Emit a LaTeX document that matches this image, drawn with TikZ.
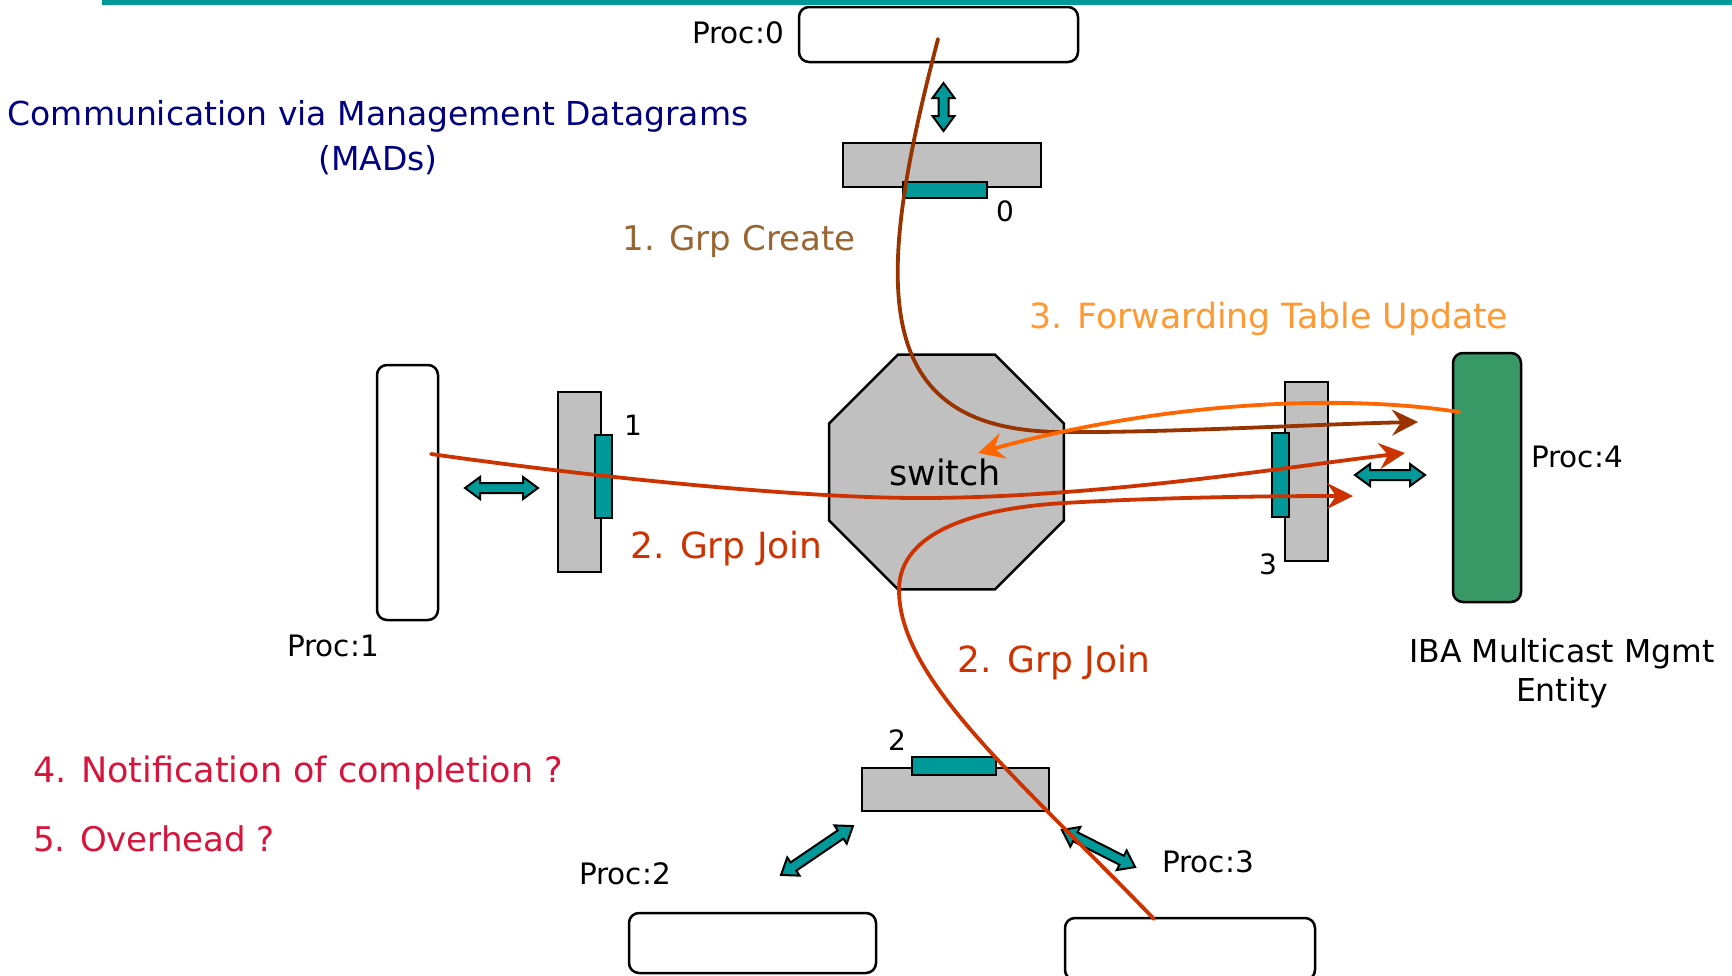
\documentclass[tikz,border=0pt]{standalone}
\usepackage{fontspec}
\setmainfont{DejaVu Sans}
\usetikzlibrary{arrows.meta, shapes.geometric}

\definecolor{tealc}{HTML}{009999}
\definecolor{portgray}{HTML}{C0C0C0}
\definecolor{smgreen}{HTML}{389966}
\definecolor{navyc}{HTML}{000080}
\definecolor{createc}{HTML}{996633}
\definecolor{createline}{HTML}{993300}
\definecolor{joinc}{HTML}{CC3300}
\definecolor{fwdtext}{HTML}{FF9933}
\definecolor{fwdline}{HTML}{FF6600}
\definecolor{questc}{HTML}{D7143C}

\newcommand{\fs}[1]{\fontsize{#1}{#1}\selectfont}

\tikzset{
  procbox/.style={draw=black, line width=2.5pt, rounded corners=10pt, fill=white, inner sep=0pt, outer sep=0pt},
  portbox/.style={draw=black, line width=2.5pt, fill=portgray, inner sep=0pt, outer sep=0pt},
  linkbox/.style={draw=black, line width=2.5pt, fill=tealc, inner sep=0pt, outer sep=0pt},
  lbl/.style={inner sep=0pt, text=black, font=\fs{29.5}},
  portlbl/.style={inner sep=0pt, text=black, font=\fs{28}},
  flow/.style={line width=3.8pt, line cap=round,
    -{Stealth[length=26pt, width=26pt, inset=9pt]}},
  pics/dblarrow/.style={code={
    \draw[line width=2pt, fill=tealc, line join=miter]
      (-#1/2,0) -- (-#1/2+15,11) -- (-#1/2+15,5) -- (#1/2-15,5)
      -- (#1/2-15,11) -- (#1/2,0) -- (#1/2-15,-11) -- (#1/2-15,-5)
      -- (-#1/2+15,-5) -- (-#1/2+15,-11) -- cycle;
  }}
}

\begin{document}
\begin{tikzpicture}[x=1pt, y=-1pt]
\useasboundingbox (0,0) rectangle (1732,975);

% title rule
\fill[tealc] (102,0) rectangle (1732,4.5);

% processors
\node[procbox, minimum width=279pt, minimum height=55pt] (p0) at (938.5,34.5) {};
\node[procbox, minimum width=61pt, minimum height=255pt] (p1) at (407.5,492.5) {};
\node[procbox, minimum width=247pt, minimum height=60pt] (p2) at (752.5,943) {};
\node[procbox, minimum width=250pt, minimum height=62pt] (p3) at (1190,949) {};
\node[procbox, fill=smgreen, minimum width=68pt, minimum height=249pt] (p4) at (1487,477.5) {};

% switch
\node[draw=black, line width=2.5pt, fill=portgray, regular polygon, regular polygon sides=8,
      minimum size=254pt, inner sep=0pt] (sw) at (946.5,472) {};
\node[inner sep=0pt, font=\fs{35}] (swl) at (945,472) {switch};

% switch ports
\node[portbox, minimum width=198pt, minimum height=44pt] (g0) at (942,165) {};
\node[linkbox, minimum width=84pt, minimum height=16pt] (l0) at (945,190) {};
\node[portbox, minimum width=43pt, minimum height=180pt] (g1) at (579.5,482) {};
\node[linkbox, minimum width=17pt, minimum height=83pt] (l1) at (603.5,476.5) {};
\node[portbox, minimum width=187pt, minimum height=43pt] (g2) at (955.5,789.5) {};
\node[linkbox, minimum width=84pt, minimum height=18pt] (l2) at (954,766) {};
\node[portbox, minimum width=43pt, minimum height=179pt] (g3) at (1306.5,471.5) {};
\node[linkbox, minimum width=17pt, minimum height=84pt] (l3) at (1280.5,475) {};

% port numbers
\node[portlbl] (n0) at (1005,211) {0};
\node[portlbl] (n1) at (633,425) {1};
\node[portlbl] (n2) at (897,740) {2};
\node[portlbl] (n3) at (1268,564) {3};

% processor labels
\node[lbl] (lp0) at (738,33) {Proc:0};
\node[lbl] (lp1) at (333,646) {Proc:1};
\node[lbl] (lp2) at (625,874) {Proc:2};
\node[lbl] (lp3) at (1208,862) {Proc:3};
\node[lbl] (lp4) at (1577,457) {Proc:4};
\node[inner sep=0pt, align=center, font=\fontsize{31.5}{39}\selectfont] (sm) at (1562,673)
  {IBA Multicast Mgmt\\Entity};

% host-to-port links
\pic[rotate=90] at (943.5,107) {dblarrow=48};
\pic at (501.5,488) {dblarrow=73};
\pic at (1390,475) {dblarrow=70};
\pic[rotate=34.2] at (817,850.5) {dblarrow=87};
\pic[rotate=-26.9] at (1098.5,848.5) {dblarrow=82};

% headings and step labels
\node[inner sep=0pt, align=center, text=navyc, font=\fontsize{33}{45}\selectfont] (title) at (378,138)
  {Communication via Management Datagrams\\(MADs)};
\node[inner sep=0pt, text=createc, font=\fs{34}] (s1) at (739,241) {1. Grp Create};
\node[inner sep=0pt, text=fwdtext, font=\fs{34.7}] (s3) at (1269,319) {3. Forwarding Table Update};
\node[inner sep=0pt, text=joinc, font=\fs{36}] (s2a) at (726.5,549) {2. Grp Join};
\node[inner sep=0pt, text=joinc, font=\fs{36}] (s2b) at (1054,663) {2. Grp Join};
\node[inner sep=0pt, anchor=west, text=questc, font=\fs{35}] (q4) at (33,773) {4. Notification of completion ?};
\node[inner sep=0pt, anchor=west, text=questc, font=\fs{34}] (q5) at (33,839) {5. Overhead ?};

% message flows
\coordinate (c0) at (938,39);
\coordinate (t0) at (1418,422);
\coordinate (c1) at (431,454);
\coordinate (t1) at (1405,453);
\coordinate (c3) at (1154,919);
\coordinate (t3) at (1353,496);
\coordinate (c4) at (1459,412);
\coordinate (t4) at (978,453);

\draw[flow, createline] (c0) .. controls (875,280) and (865,432) .. (1064,432)
  .. controls (1160,433) and (1320,424) .. (t0);
\draw[flow, joinc] (c1) .. controls (600,478) and (800,498) .. (920,498)
  .. controls (1100,498) and (1300,465) .. (t1);
\draw[flow, joinc] (c3) .. controls (1020,780) and (899,680) .. (899,590)
  .. controls (899,530) and (980,508) .. (1064,503)
  .. controls (1150,498) and (1250,496) .. (t3);
\draw[flow, fwdline] (c4) .. controls (1330,392) and (1150,405) .. (t4);
\end{tikzpicture}
\end{document}
